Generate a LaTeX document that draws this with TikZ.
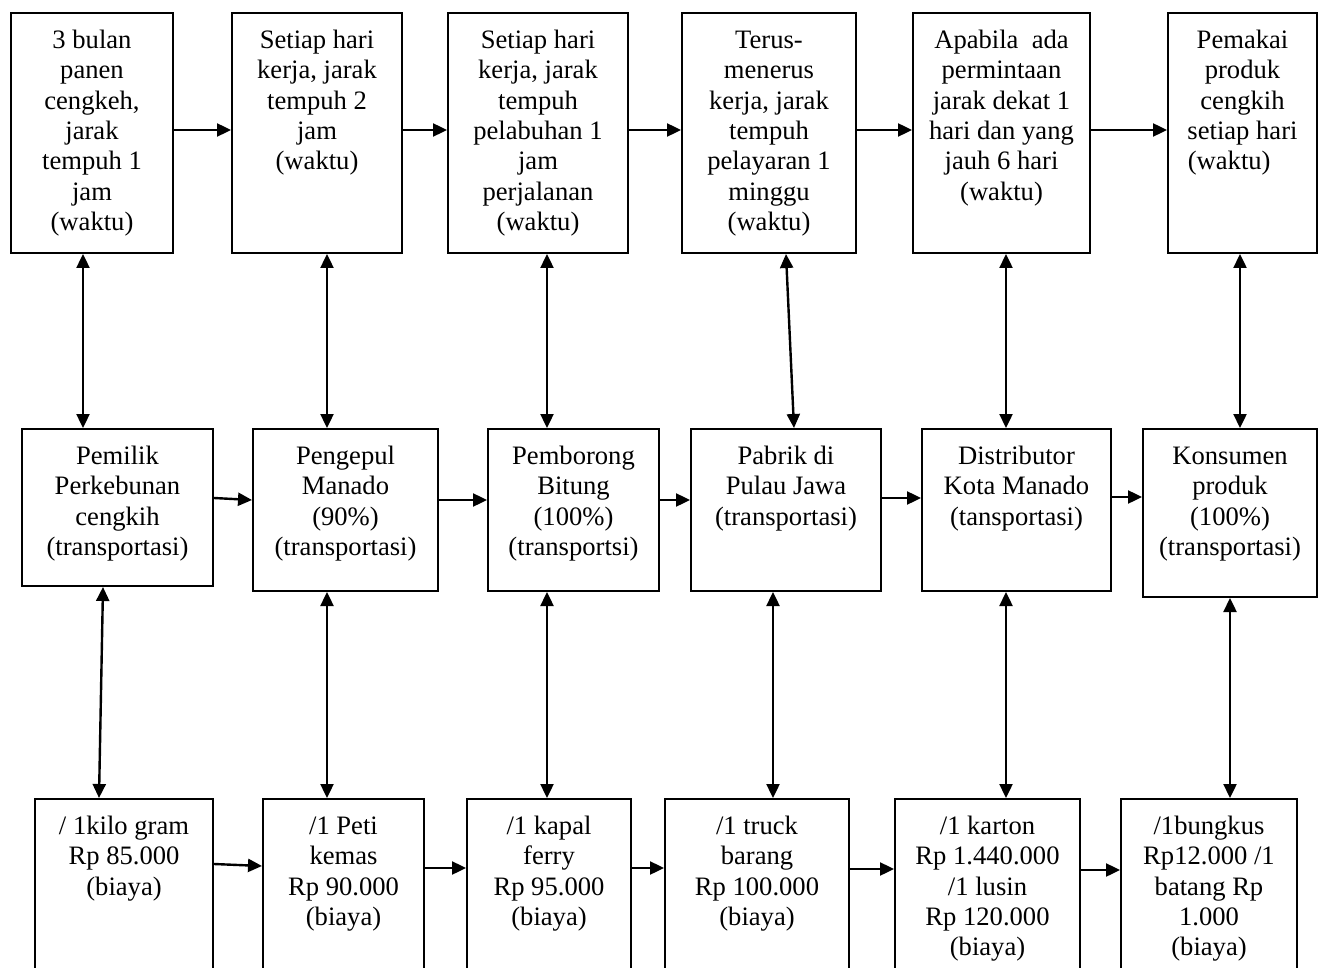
\documentclass[tikz,border=0pt]{standalone}
\usepackage{fontspec}
\setmainfont{Liberation Serif}
\usetikzlibrary{arrows.meta}

\begin{document}
\begin{tikzpicture}[x=0.5pt, y=-0.5pt, >={Triangle[length=7pt, width=6.5pt]},
        kotak/.style={draw, line width=1pt, anchor=north west, inner sep=0pt},
        isi/.style={anchor=north, align=center, inner sep=0pt, font=\fontsize{13.3}{15.2}\selectfont},
        panah/.style={line width=1.2pt}]

        % 画布范围
        \useasboundingbox (0,0) rectangle (1318,968);
        \clip (0,0) rectangle (1318,968);

        % 第一行：时间 (waktu)
        \node[kotak, minimum width=81pt, minimum height=120pt] (T1) at (10,12) {};
        \node[isi] (T1t) at ([yshift=-7.3pt]T1.north) {\strut 3 bulan\\panen\\cengkeh,\\jarak\\tempuh 1\\jam\\(waktu)};
        \node[kotak, minimum width=85pt, minimum height=120pt] (T2) at (231,12) {};
        \node[isi] (T2t) at ([yshift=-7.3pt]T2.north) {\strut Setiap hari\\kerja, jarak\\tempuh 2\\jam\\(waktu)};
        \node[kotak, minimum width=90pt, minimum height=120pt] (T3) at (447,12) {};
        \node[isi] (T3t) at ([yshift=-7.3pt]T3.north) {\strut Setiap hari\\kerja, jarak\\tempuh\\pelabuhan 1\\jam\\perjalanan\\(waktu)};
        \node[kotak, minimum width=87pt, minimum height=120pt] (T4) at (681,12) {};
        \node[isi] (T4t) at ([yshift=-7.3pt]T4.north) {\strut Terus-\\menerus\\kerja, jarak\\tempuh\\pelayaran 1\\minggu\\(waktu)};
        \node[kotak, minimum width=88.5pt, minimum height=120pt] (T5) at (912,12) {};
        \node[isi] (T5t) at ([yshift=-7.3pt]T5.north) {\strut Apabila~~ada\\permintaan\\jarak dekat 1\\hari dan yang\\jauh 6 hari\\(waktu)};
        \node[kotak, minimum width=74.5pt, minimum height=120pt] (T6) at (1167,12) {};
        \node[isi] (T6t) at ([yshift=-7.3pt]T6.north) {\strut Pemakai\\produk\\cengkih\\setiap hari\\(waktu)\hspace*{1em}};

        % 第二行：运输 (transportasi)
        \node[kotak, minimum width=95.5pt, minimum height=78.5pt] (M1) at (21,428) {};
        \node[isi] (M1t) at ([yshift=-7.3pt]M1.north) {\strut Pemilik\\Perkebunan\\cengkih\\(transportasi)};
        \node[kotak, minimum width=92.5pt, minimum height=81pt] (M2) at (252,428) {};
        \node[isi] (M2t) at ([yshift=-7.3pt]M2.north) {\strut Pengepul\\Manado\\(90\%)\\(transportasi)};
        \node[kotak, minimum width=85.5pt, minimum height=81pt] (M3) at (487,428) {};
        \node[isi] (M3t) at ([yshift=-7.3pt]M3.north) {\strut Pemborong\\Bitung\\(100\%)\\(transportsi)};
        \node[kotak, minimum width=95pt, minimum height=81pt] (M4) at (690,428) {};
        \node[isi] (M4t) at ([yshift=-7.3pt]M4.north) {\strut Pabrik di\\Pulau Jawa\\(transportasi)};
        \node[kotak, minimum width=94.5pt, minimum height=81pt] (M5) at (921,428) {};
        \node[isi] (M5t) at ([yshift=-7.3pt]M5.north) {\strut Distributor\\Kota Manado\\(tansportasi)};
        \node[kotak, minimum width=87pt, minimum height=84pt] (M6) at (1142,428) {};
        \node[isi] (M6t) at ([yshift=-7.3pt]M6.north) {\strut Konsumen\\produk\\(100\%)\\(transportasi)};

        % 第三行：费用 (biaya)，下边超出画布
        \node[kotak, minimum width=89pt, minimum height=91pt] (B1) at (34,798) {};
        \node[isi] (B1t) at ([yshift=-7.3pt]B1.north) {\strut / 1kilo gram\\Rp 85.000\\(biaya)};
        \node[kotak, minimum width=80.5pt, minimum height=91pt] (B2) at (262,798) {};
        \node[isi] (B2t) at ([yshift=-7.3pt]B2.north) {\strut /1 Peti\\kemas\\Rp 90.000\\(biaya)};
        \node[kotak, minimum width=82pt, minimum height=91pt] (B3) at (466,798) {};
        \node[isi] (B3t) at ([yshift=-7.3pt]B3.north) {\strut /1 kapal\\ferry\\Rp 95.000\\(biaya)};
        \node[kotak, minimum width=92pt, minimum height=91pt] (B4) at (664,798) {};
        \node[isi] (B4t) at ([yshift=-7.3pt]B4.north) {\strut /1 truck\\barang\\Rp 100.000\\(biaya)};
        \node[kotak, minimum width=92.5pt, minimum height=91pt] (B5) at (894,798) {};
        \node[isi] (B5t) at ([yshift=-7.3pt]B5.north) {\strut /1 karton\\Rp 1.440.000\\/1 lusin\\Rp 120.000\\(biaya)};
        \node[kotak, minimum width=88pt, minimum height=91pt] (B6) at (1120,798) {};
        \node[isi] (B6t) at ([yshift=-7.3pt]B6.north) {\strut /1bungkus\\Rp12.000 /1\\batang Rp\\1.000\\(biaya)};

        % 横向箭头
        \draw[->, panah] (T1.east |- 0,130) -- (T2.west |- 0,130);
        \draw[->, panah] (T2.east |- 0,130) -- (T3.west |- 0,130);
        \draw[->, panah] (T3.east |- 0,130) -- (T4.west |- 0,130);
        \draw[->, panah] (T4.east |- 0,130) -- (T5.west |- 0,130);
        \draw[->, panah] (T5.east |- 0,130) -- (T6.west |- 0,130);

        \draw[->, panah] (M1.east |- 0,498) -- (M2.west |- 0,500);
        \draw[->, panah] (M2.east |- 0,500) -- (M3.west |- 0,500);
        \draw[->, panah] (M3.east |- 0,500) -- (M4.west |- 0,500);
        \draw[->, panah] (M4.east |- 0,498) -- (M5.west |- 0,498);
        \draw[->, panah] (M5.east |- 0,497) -- (M6.west |- 0,497);

        \draw[->, panah] (B1.east |- 0,864) -- (B2.west |- 0,866);
        \draw[->, panah] (B2.east |- 0,868) -- (B3.west |- 0,868);
        \draw[->, panah] (B3.east |- 0,868) -- (B4.west |- 0,868);
        \draw[->, panah] (B4.east |- 0,869) -- (B5.west |- 0,869);
        \draw[->, panah] (B5.east |- 0,870) -- (B6.west |- 0,870);

        % 纵向双向箭头
        \draw[<->, panah] (T1.south -| 83,0) -- (M1.north -| 83,0);
        \draw[<->, panah] (T2.south -| 327,0) -- (M2.north -| 327,0);
        \draw[<->, panah] (T3.south -| 547,0) -- (M3.north -| 547,0);
        \draw[<->, panah] (T4.south -| 786,0) -- (M4.north -| 794,0);
        \draw[<->, panah] (T5.south -| 1006,0) -- (M5.north -| 1006,0);
        \draw[<->, panah] (T6.south -| 1240,0) -- (M6.north -| 1240,0);

        \draw[<->, panah] (M1.south -| 103,0) -- (B1.north -| 99,0);
        \draw[<->, panah] (M2.south -| 327,0) -- (B2.north -| 327,0);
        \draw[<->, panah] (M3.south -| 547,0) -- (B3.north -| 547,0);
        \draw[<->, panah] (M4.south -| 773,0) -- (B4.north -| 773,0);
        \draw[<->, panah] (M5.south -| 1006,0) -- (B5.north -| 1006,0);
        \draw[<->, panah] (M6.south -| 1230,0) -- (B6.north -| 1230,0);
    \end{tikzpicture}
\end{document}
